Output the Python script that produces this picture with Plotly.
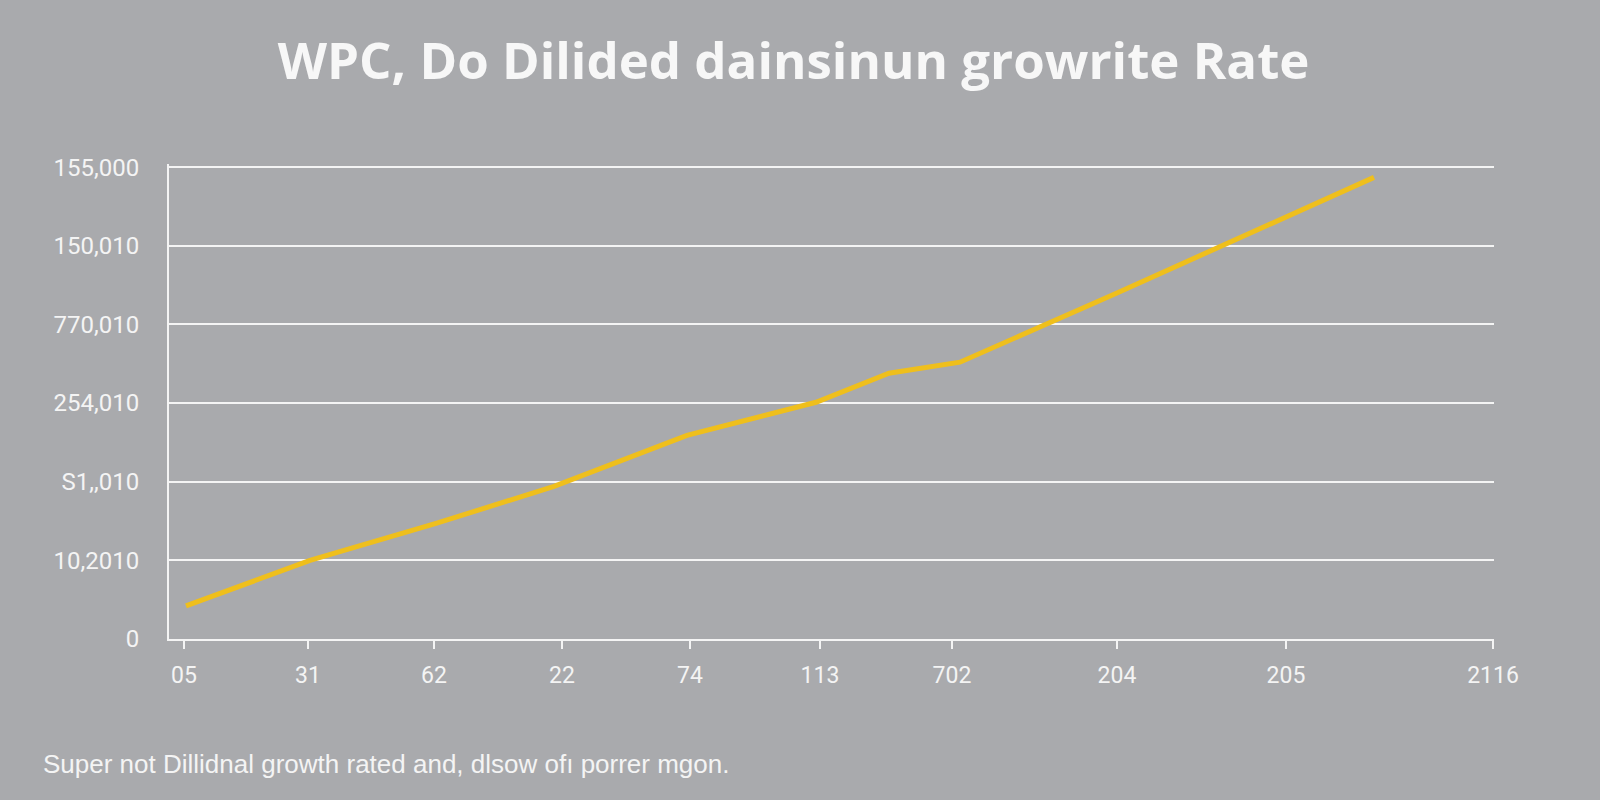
import plotly.graph_objects as go

# x axis ticks (irregularly spaced categories) and their labels
x_tick_pos = [0, 12.4, 25, 37.8, 50.6, 63.6, 76.8, 93.3, 110.2, 130.9]
x_tick_text = ["05", "31", "62", "22", "74", "113", "702", "204", "205", "2116"]

# y axis ticks
y_tick_pos = [0, 1, 2, 3, 4, 5, 6]
y_tick_text = ["0", "10,2010", "S1,,010", "254,010", "770,010", "150,010", "155,000"]

# growth line
line_x = [0.2, 12.6, 25.2, 37.0, 50.3, 63.2, 70.5, 77.6, 93.3, 110.2, 119.0]
line_y = [0.42, 1.00, 1.47, 1.94, 2.59, 3.01, 3.38, 3.52, 4.40, 5.36, 5.87]

title_text = "WPC, Do Dilided dainsinun growrite Rate"
footer_text = "Super not Dillidnal growth rated and, dlsow ofı porrer mgon."

bg = "#a9aaad"
white = "#f4f4f4"

fig = go.Figure()
fig.add_trace(go.Scatter(
    x=line_x, y=line_y,
    mode="lines",
    line=dict(color="#efbf1c", width=5),
    hoverinfo="skip",
    showlegend=False,
))

fig.update_layout(
    width=1600, height=800,
    paper_bgcolor=bg, plot_bgcolor=bg,
    margin=dict(l=169, r=106, t=164, b=161),
    font=dict(family="Roboto, Liberation Sans, sans-serif", color=white),
    title=dict(
        text=title_text,
        x=0.496, xanchor="center",
        y=0.923, yanchor="middle",
        font=dict(family="Open Sans, Lato, sans-serif", size=51, color="#f7f7f7", weight="bold"),
    ),
    showlegend=False,
)

fig.update_xaxes(
    range=[-1.5, 131.0],
    tickvals=x_tick_pos, ticktext=x_tick_text,
    showgrid=False, zeroline=False,
    showline=True, linecolor=white, linewidth=2,
    ticks="outside", ticklen=8, tickwidth=2, tickcolor=white,
    ticklabelstandoff=6,
    tickfont=dict(size=23, color=white),
)

fig.update_yaxes(
    range=[0, 6.04],
    tickvals=y_tick_pos, ticktext=y_tick_text,
    showgrid=True, gridcolor=white, gridwidth=2,
    zeroline=False,
    showline=True, linecolor=white, linewidth=2,
    ticks="", ticklabelstandoff=23,
    tickfont=dict(size=24, color=white),
)

fig.add_annotation(
    text=footer_text,
    xref="paper", yref="paper",
    x=-0.0966, y=-0.263,
    xanchor="left", yanchor="middle",
    showarrow=False,
    font=dict(family="Liberation Sans, Roboto, sans-serif", size=26, color=white),
)

# drop the default page margin so the figure sits at the window corner
fig.write_html(
    "out.html",
    config={"displayModeBar": False},
    post_script="document.body.style.margin='0';",
)
